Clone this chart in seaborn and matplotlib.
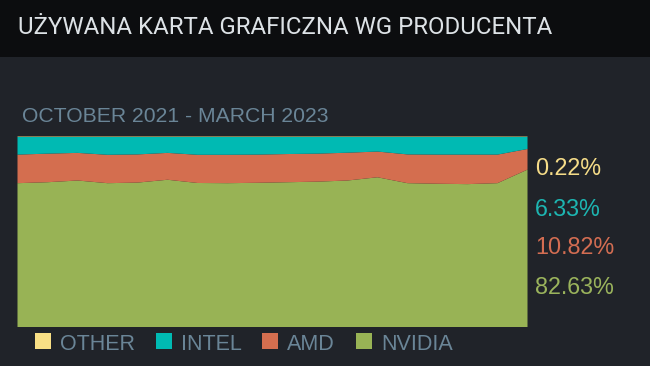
import numpy as np
import pandas as pd
import matplotlib
matplotlib.use("Agg")
import matplotlib.pyplot as plt
import seaborn as sns
from matplotlib.patches import Rectangle

# ---- data ----
months = ["2021-10", "2021-11", "2021-12", "2022-01", "2022-02", "2022-03",
          "2022-04", "2022-05", "2022-06", "2022-07", "2022-08", "2022-09",
          "2022-10", "2022-11", "2022-12", "2023-01", "2023-02", "2023-03"]
nvidia = [75.5, 76.0, 76.9, 75.5, 75.8, 77.3, 75.6, 75.5, 75.7, 76.0, 76.3, 76.9,
          78.6, 75.5, 75.2, 75.0, 75.5, 82.63]
amd = [15.0, 15.0, 14.5, 14.9, 14.8, 14.1, 14.8, 14.9, 14.8, 14.8, 14.7, 14.6,
       13.5, 15.1, 15.3, 15.5, 15.0, 10.82]
other = [0.25, 0.25, 0.25, 0.25, 0.25, 0.25, 0.25, 0.25, 0.25, 0.25, 0.25, 0.25,
         0.25, 0.25, 0.25, 0.25, 0.25, 0.22]
intel = [round(100 - n - a - o, 2) for n, a, o in zip(nvidia, amd, other)]
intel[-1] = 6.33

series_names = ["NVIDIA", "AMD", "INTEL", "OTHER"]
legend_order = ["OTHER", "INTEL", "AMD", "NVIDIA"]
colors = {"NVIDIA": "#98b355", "AMD": "#d46e4f", "INTEL": "#00bab3", "OTHER": "#f8df85"}
label_colors = {"NVIDIA": "#9ab35c", "AMD": "#d36d52", "INTEL": "#1db5b1", "OTHER": "#f5dc88"}
title = "UŻYWANA KARTA GRAFICZNA WG PRODUCENTA"
subtitle = "OCTOBER 2021 - MARCH 2023"

df = pd.DataFrame({"month": months, "NVIDIA": nvidia, "AMD": amd,
                   "INTEL": intel, "OTHER": other})

sns.set_style("dark")
plt.rcParams["font.family"] = ["Liberation Sans", "DejaVu Sans"]

W, H = 650, 366
fig = plt.figure(figsize=(W / 100, H / 100), dpi=100)
fig.patch.set_facecolor("#202329")

# header band
fig.patches.append(Rectangle((0, 1 - 57 / H), 1, 57 / H, transform=fig.transFigure,
                             facecolor="#0c0d0f", edgecolor="none", zorder=0))
fig.text(18 / W, 1 - 28 / H, title, color="#dde2e6", fontsize=17.3,
         family=["Roboto", "DejaVu Sans"], fontweight="normal", va="center", ha="left")
fig.text(22 / W, 1 - 116 / H, subtitle, color="#6a8597", fontsize=15.2,
         va="center", ha="left")

left, right, top, bottom = 17, 527, 136, 326.5
ax = fig.add_axes([left / W, 1 - bottom / H, (right - left) / W, (bottom - top) / H])
x = np.arange(len(months))
ax.stackplot(x, *[df[s] for s in series_names],
             colors=[colors[s] for s in series_names], linewidth=0)
ax.set_xlim(0, len(months) - 1)
ax.set_ylim(0, 100)
ax.set_axis_off()

# right side value labels
last = {"OTHER": "0.22%", "INTEL": "6.33%", "AMD": "10.82%", "NVIDIA": "82.63%"}
label_y = {"OTHER": 168, "INTEL": 209, "AMD": 247, "NVIDIA": 288}
for s in legend_order:
    fig.text(535 / W, 1 - label_y[s] / H, last[s], color=label_colors[s],
             fontsize=16.8, va="center", ha="left")

# legend
leg_x = {"OTHER": 35, "INTEL": 156, "AMD": 262, "NVIDIA": 356}
for s in legend_order:
    fig.patches.append(Rectangle((leg_x[s] / W, 1 - 349 / H), 16 / W, 16 / H,
                                 transform=fig.transFigure, facecolor=colors[s],
                                 edgecolor="none"))
    fig.text((leg_x[s] + 25) / W, 1 - 345 / H, s, color="#6a8597", fontsize=15.5,
             va="center", ha="left")

fig.savefig("out.png", dpi=100, facecolor=fig.get_facecolor())
